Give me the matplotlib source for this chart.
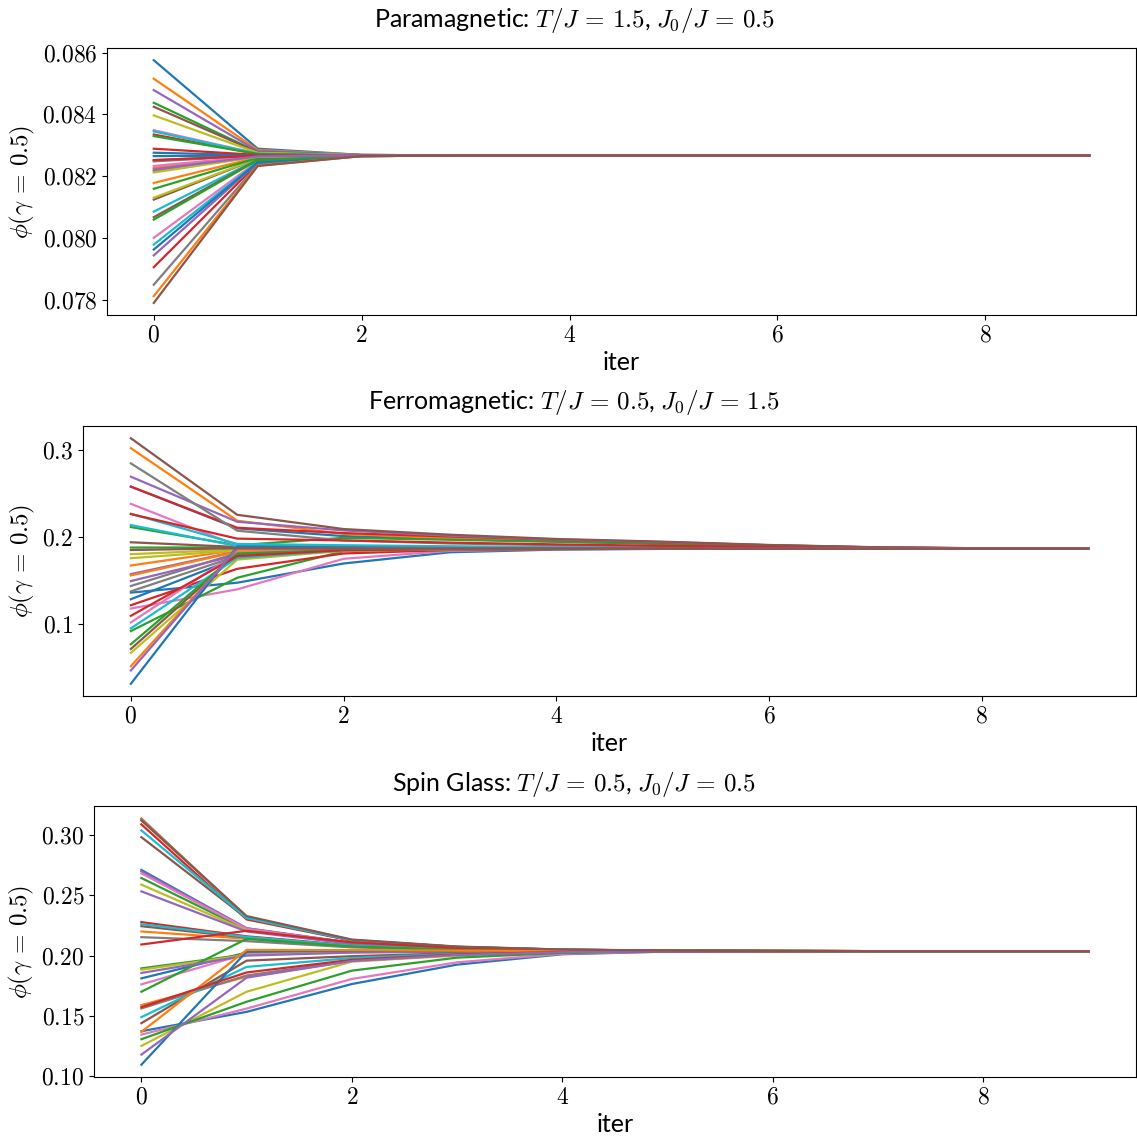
import numpy as np
import matplotlib
matplotlib.use("Agg")
import matplotlib.pyplot as plt
from matplotlib.ticker import FuncFormatter

plt.rcParams["mathtext.fontset"] = "cm"
plt.rcParams["font.family"] = ["Lato", "DejaVu Sans"]

iters = list(range(10))

# Paramagnetic: start, first and second iteration, then all settled
para_start = [0.08576, 0.08516, 0.08438, 0.08335, 0.08479, 0.08425, 0.08349, 0.08252, 0.08397, 0.08345,
              0.08276, 0.08227, 0.08330, 0.08289, 0.08217, 0.08124, 0.08000, 0.08248, 0.08130, 0.08085,
              0.08265, 0.08178, 0.08159, 0.07905, 0.07943, 0.08067, 0.08233, 0.07848, 0.08212, 0.07978,
              0.07962, 0.07811, 0.08059, 0.08252, 0.08222, 0.07789]
para_iter1 = [0.08289, 0.08285, 0.08279, 0.08272, 0.08282, 0.08278, 0.08273, 0.08266, 0.08276, 0.08273,
              0.08268, 0.08264, 0.08272, 0.08269, 0.08263, 0.08257, 0.08248, 0.08266, 0.08257, 0.08254,
              0.08267, 0.08261, 0.08259, 0.08241, 0.08244, 0.08253, 0.08265, 0.08237, 0.08263, 0.08246,
              0.08245, 0.08234, 0.08252, 0.08266, 0.08264, 0.08233]
para_iter2 = [0.08269, 0.08269, 0.08268, 0.08267, 0.08269, 0.08268, 0.08268, 0.08267, 0.08268, 0.08268,
              0.08267, 0.08267, 0.08267, 0.08267, 0.08267, 0.08266, 0.08266, 0.08267, 0.08266, 0.08266,
              0.08267, 0.08266, 0.08266, 0.08265, 0.08265, 0.08266, 0.08267, 0.08265, 0.08267, 0.08266,
              0.08265, 0.08265, 0.08266, 0.08267, 0.08267, 0.08265]
para_settled = 0.08267

# Ferromagnetic runs, one row per run (iter 0..9)
ferro_runs = [
    [0.2579, 0.2099, 0.2010, 0.1975, 0.1948, 0.1922, 0.1897, 0.1878, 0.1869, 0.1866],
    [0.3021, 0.2187, 0.2035, 0.1985, 0.1955, 0.1928, 0.1900, 0.1879, 0.1869, 0.1866],
    [0.2114, 0.1905, 0.1990, 0.1968, 0.1945, 0.1920, 0.1896, 0.1877, 0.1868, 0.1866],
    [0.2579, 0.2106, 0.2045, 0.2005, 0.1968, 0.1938, 0.1905, 0.1880, 0.1869, 0.1866],
    [0.2693, 0.2175, 0.2075, 0.2015, 0.1972, 0.1942, 0.1906, 0.1881, 0.1870, 0.1866],
    [0.3135, 0.2255, 0.2091, 0.2026, 0.1977, 0.1946, 0.1908, 0.1882, 0.1870, 0.1866],
    [0.2381, 0.1900, 0.1895, 0.1885, 0.1878, 0.1873, 0.1869, 0.1867, 0.1866, 0.1866],
    [0.2846, 0.2072, 0.1960, 0.1925, 0.1905, 0.1890, 0.1879, 0.1871, 0.1867, 0.1866],
    [0.1802, 0.1855, 0.1868, 0.1870, 0.1869, 0.1868, 0.1867, 0.1866, 0.1866, 0.1866],
    [0.2267, 0.1920, 0.1905, 0.1893, 0.1884, 0.1877, 0.1871, 0.1868, 0.1866, 0.1866],
    [0.1360, 0.1474, 0.1695, 0.1824, 0.1855, 0.1863, 0.1866, 0.1866, 0.1866, 0.1866],
    [0.1672, 0.1850, 0.1862, 0.1865, 0.1866, 0.1866, 0.1866, 0.1866, 0.1866, 0.1866],
    [0.1878, 0.1880, 0.1875, 0.1870, 0.1868, 0.1867, 0.1866, 0.1866, 0.1866, 0.1866],
    [0.2263, 0.1981, 0.1960, 0.1935, 0.1915, 0.1898, 0.1884, 0.1873, 0.1868, 0.1866],
    [0.1573, 0.1835, 0.1860, 0.1864, 0.1866, 0.1866, 0.1866, 0.1866, 0.1866, 0.1866],
    [0.1939, 0.1885, 0.1878, 0.1872, 0.1869, 0.1867, 0.1866, 0.1866, 0.1866, 0.1866],
    [0.1177, 0.1398, 0.1749, 0.1840, 0.1860, 0.1865, 0.1866, 0.1866, 0.1866, 0.1866],
    [0.1436, 0.1815, 0.1855, 0.1863, 0.1865, 0.1866, 0.1866, 0.1866, 0.1866, 0.1866],
    [0.1756, 0.1845, 0.1862, 0.1865, 0.1866, 0.1866, 0.1866, 0.1866, 0.1866, 0.1866],
    [0.2137, 0.1895, 0.1888, 0.1880, 0.1874, 0.1870, 0.1868, 0.1867, 0.1866, 0.1866],
    [0.1284, 0.1760, 0.1845, 0.1860, 0.1864, 0.1866, 0.1866, 0.1866, 0.1866, 0.1866],
    [0.1558, 0.1830, 0.1858, 0.1864, 0.1866, 0.1866, 0.1866, 0.1866, 0.1866, 0.1866],
    [0.0918, 0.1531, 0.1836, 0.1855, 0.1862, 0.1865, 0.1866, 0.1866, 0.1866, 0.1866],
    [0.1215, 0.1634, 0.1810, 0.1850, 0.1860, 0.1864, 0.1866, 0.1866, 0.1866, 0.1866],
    [0.1493, 0.1790, 0.1850, 0.1862, 0.1865, 0.1866, 0.1866, 0.1866, 0.1866, 0.1866],
    [0.0712, 0.1800, 0.1852, 0.1862, 0.1865, 0.1866, 0.1866, 0.1866, 0.1866, 0.1866],
    [0.1017, 0.1820, 0.1856, 0.1863, 0.1866, 0.1866, 0.1866, 0.1866, 0.1866, 0.1866],
    [0.1375, 0.1780, 0.1848, 0.1861, 0.1865, 0.1866, 0.1866, 0.1866, 0.1866, 0.1866],
    [0.0667, 0.1740, 0.1840, 0.1858, 0.1864, 0.1866, 0.1866, 0.1866, 0.1866, 0.1866],
    [0.0949, 0.1760, 0.1845, 0.1860, 0.1864, 0.1866, 0.1866, 0.1866, 0.1866, 0.1866],
    [0.0312, 0.1890, 0.1880, 0.1872, 0.1868, 0.1867, 0.1866, 0.1866, 0.1866, 0.1866],
    [0.0514, 0.1860, 0.1866, 0.1866, 0.1866, 0.1866, 0.1866, 0.1866, 0.1866, 0.1866],
    [0.0766, 0.1810, 0.1852, 0.1862, 0.1865, 0.1866, 0.1866, 0.1866, 0.1866, 0.1866],
    [0.1093, 0.1780, 0.1848, 0.1861, 0.1865, 0.1866, 0.1866, 0.1866, 0.1866, 0.1866],
    [0.0465, 0.1870, 0.1868, 0.1867, 0.1866, 0.1866, 0.1866, 0.1866, 0.1866, 0.1866],
    [0.1850, 0.1870, 0.1868, 0.1867, 0.1866, 0.1866, 0.1866, 0.1866, 0.1866, 0.1866],
]

# Spin glass runs, one row per run (iter 0..9)
glass_runs = [
    [0.2711, 0.2225, 0.2105, 0.2062, 0.2046, 0.2040, 0.2038, 0.2037, 0.2037, 0.2037],
    [0.3139, 0.2318, 0.2128, 0.2072, 0.2049, 0.2041, 0.2038, 0.2037, 0.2037, 0.2037],
    [0.2644, 0.2215, 0.2102, 0.2061, 0.2046, 0.2040, 0.2038, 0.2037, 0.2037, 0.2037],
    [0.3089, 0.2300, 0.2124, 0.2070, 0.2049, 0.2041, 0.2038, 0.2037, 0.2037, 0.2037],
    [0.2700, 0.2228, 0.2106, 0.2063, 0.2046, 0.2040, 0.2038, 0.2037, 0.2037, 0.2037],
    [0.2983, 0.2310, 0.2125, 0.2071, 0.2049, 0.2041, 0.2038, 0.2037, 0.2037, 0.2037],
    [0.2683, 0.2222, 0.2104, 0.2062, 0.2046, 0.2040, 0.2038, 0.2037, 0.2037, 0.2037],
    [0.3133, 0.2322, 0.2130, 0.2073, 0.2050, 0.2041, 0.2038, 0.2037, 0.2037, 0.2037],
    [0.2589, 0.2208, 0.2100, 0.2060, 0.2045, 0.2040, 0.2038, 0.2037, 0.2037, 0.2037],
    [0.3039, 0.2312, 0.2127, 0.2072, 0.2049, 0.2041, 0.2038, 0.2037, 0.2037, 0.2037],
    [0.1811, 0.2025, 0.2035, 0.2036, 0.2037, 0.2037, 0.2037, 0.2037, 0.2037, 0.2037],
    [0.2200, 0.2140, 0.2075, 0.2050, 0.2042, 0.2039, 0.2038, 0.2037, 0.2037, 0.2037],
    [0.1894, 0.2010, 0.2030, 0.2035, 0.2037, 0.2037, 0.2037, 0.2037, 0.2037, 0.2037],
    [0.2278, 0.2160, 0.2085, 0.2054, 0.2043, 0.2039, 0.2038, 0.2037, 0.2037, 0.2037],
    [0.2533, 0.2200, 0.2098, 0.2059, 0.2045, 0.2040, 0.2038, 0.2037, 0.2037, 0.2037],
    [0.2244, 0.2150, 0.2080, 0.2052, 0.2042, 0.2039, 0.2038, 0.2037, 0.2037, 0.2037],
    [0.1761, 0.2015, 0.2032, 0.2036, 0.2037, 0.2037, 0.2037, 0.2037, 0.2037, 0.2037],
    [0.2153, 0.2120, 0.2068, 0.2048, 0.2041, 0.2038, 0.2037, 0.2037, 0.2037, 0.2037],
    [0.1883, 0.2005, 0.2028, 0.2034, 0.2036, 0.2037, 0.2037, 0.2037, 0.2037, 0.2037],
    [0.2261, 0.2155, 0.2082, 0.2053, 0.2042, 0.2039, 0.2038, 0.2037, 0.2037, 0.2037],
    [0.1372, 0.1533, 0.1764, 0.1925, 0.2011, 0.2033, 0.2036, 0.2037, 0.2037, 0.2037],
    [0.1589, 0.1825, 0.1955, 0.2005, 0.2028, 0.2035, 0.2037, 0.2037, 0.2037, 0.2037],
    [0.1700, 0.2139, 0.2075, 0.2050, 0.2042, 0.2039, 0.2038, 0.2037, 0.2037, 0.2037],
    [0.2092, 0.2206, 0.2110, 0.2064, 0.2047, 0.2040, 0.2038, 0.2037, 0.2037, 0.2037],
    [0.1856, 0.2000, 0.2025, 0.2033, 0.2036, 0.2037, 0.2037, 0.2037, 0.2037, 0.2037],
    [0.1439, 0.1958, 0.1995, 0.2020, 0.2032, 0.2036, 0.2037, 0.2037, 0.2037, 0.2037],
    [0.1344, 0.1560, 0.1806, 0.1944, 0.2015, 0.2034, 0.2036, 0.2037, 0.2037, 0.2037],
    [0.1561, 0.1835, 0.1958, 0.2008, 0.2029, 0.2035, 0.2037, 0.2037, 0.2037, 0.2037],
    [0.1250, 0.1700, 0.1950, 0.2000, 0.2027, 0.2035, 0.2037, 0.2037, 0.2037, 0.2037],
    [0.1489, 0.1906, 0.1980, 0.2015, 0.2031, 0.2036, 0.2037, 0.2037, 0.2037, 0.2037],
    [0.1094, 0.2033, 0.2040, 0.2039, 0.2038, 0.2037, 0.2037, 0.2037, 0.2037, 0.2037],
    [0.1367, 0.2047, 0.2045, 0.2041, 0.2039, 0.2038, 0.2037, 0.2037, 0.2037, 0.2037],
    [0.1306, 0.1617, 0.1875, 0.1983, 0.2022, 0.2035, 0.2037, 0.2037, 0.2037, 0.2037],
    [0.1572, 0.1860, 0.1965, 0.2010, 0.2030, 0.2035, 0.2037, 0.2037, 0.2037, 0.2037],
    [0.1178, 0.1817, 0.1955, 0.2005, 0.2028, 0.2035, 0.2037, 0.2037, 0.2037, 0.2037],
    [0.3122, 0.2328, 0.2133, 0.2075, 0.2050, 0.2042, 0.2038, 0.2037, 0.2037, 0.2037],
]

para_runs = [[s, a, b] + [para_settled] * 7
             for s, a, b in zip(para_start, para_iter1, para_iter2)]

titles = [
    r"Paramagnetic: $T/J\,=\,1.5$, $J_0/J\,=\,0.5$",
    r"Ferromagnetic: $T/J\,=\,0.5$, $J_0/J\,=\,1.5$",
    r"Spin Glass: $T/J\,=\,0.5$, $J_0/J\,=\,0.5$",
]
tick_fmt = ["{:.3f}", "{:.1f}", "{:.2f}"]

fig = plt.figure(figsize=(11.37, 11.39), dpi=100)
boxes = [
    [0.0941, 0.7234, 0.9050, 0.2344],
    [0.0730, 0.3889, 0.9261, 0.2371],
    [0.0827, 0.0544, 0.9164, 0.2379],
]
# each panel's title sits centred on the figure, like a subfigure title
title_y = [0.9824, 0.6462, 0.3108]

for box, runs, title, ty, fmt in zip(boxes, [para_runs, ferro_runs, glass_runs],
                                     titles, title_y, tick_fmt):
    ax = fig.add_axes(box)
    for run in runs:
        ax.plot(iters, run, lw=1.6)
    fig.text(0.505, ty, title, fontsize=18, ha="center", va="center")
    ax.set_xlabel("iter", fontsize=18, labelpad=4)
    ax.set_ylabel(r"$\phi(\gamma\,=\,0.5)$", fontsize=18, labelpad=4)
    ax.set_xticks([0, 2, 4, 6, 8])
    ax.xaxis.set_major_formatter(FuncFormatter(lambda v, p: "$%d$" % v))
    ax.yaxis.set_major_formatter(FuncFormatter(lambda v, p, f=fmt: "$" + f.format(v) + "$"))
    ax.tick_params(labelsize=17)

fig.savefig("out.png", dpi=100)
